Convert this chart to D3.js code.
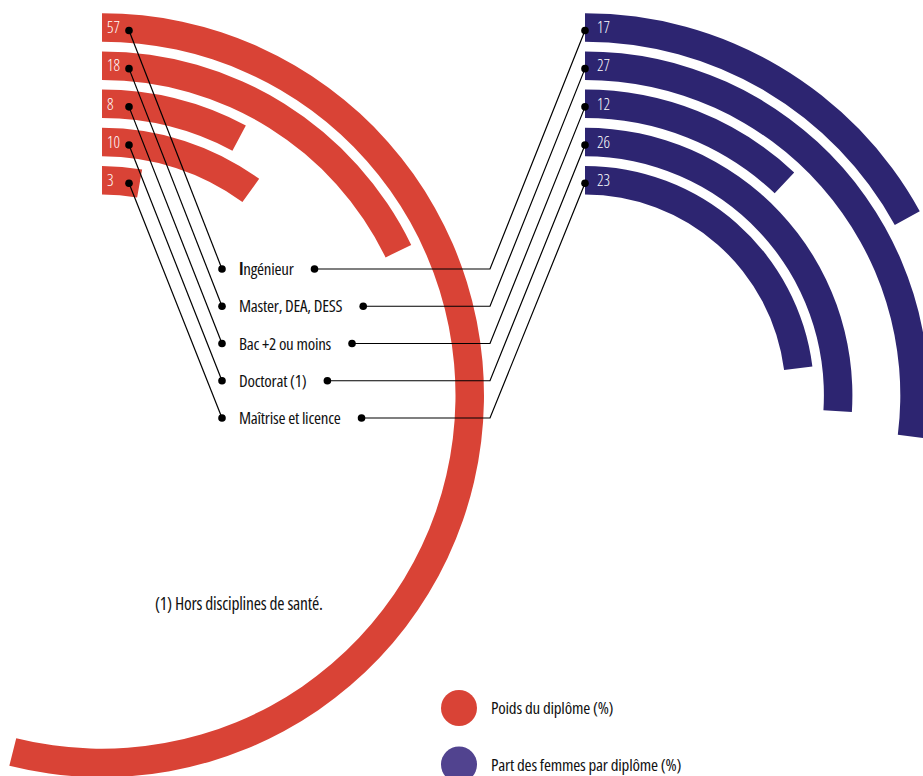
<!DOCTYPE html>
<html><head><meta charset="utf-8">
<script src="https://cdn.jsdelivr.net/npm/d3@7"></script>
<style>
html,body{margin:0;padding:0;background:#fff}
svg{display:block}
text{font-family:'Open Sans',sans-serif;font-stretch:condensed;}
</style>
</head><body>
<svg id="chart" width="923" height="776"></svg>
<script>
// ---- data ----
const categories = ["Ingénieur", "Master, DEA, DESS", "Bac +2 ou moins", "Doctorat (1)", "Maîtrise et licence"];
const poidsLabels = [57, 18, 8, 10, 3];            // printed values (%)
const poidsArc = [53.9, 17.8, 7.8, 10.0, 2.8];      // arc extent as drawn in the picture (%)
const femmes = [17, 27, 12, 26, 23];               // part des femmes (%)
const legendLabels = ["Poids du diplôme (%)", "Part des femmes par diplôme (%)"];
const footnote = "(1) Hors disciplines de santé.";

// ---- styles ----
const RED = "#d94336", NAVY = "#2d2571", PURPLE = "#51438f";
const svg = d3.select("#chart");

const leftC = {x: 102, y: 395.2};
const rightC = {x: 585, y: 395.2};

const angle = d3.scaleLinear().domain([0, 100]).range([0, 2 * Math.PI]);
const radius = d3.scaleBand().domain(d3.range(categories.length)).range([382, 200.7]).paddingInner(0.254);
const bw = radius.bandwidth();

function arcPath(i, v) {
  return d3.arc().innerRadius(radius(i)).outerRadius(radius(i) + bw).startAngle(0).endAngle(angle(v))();
}
const bandCenterY = i => leftC.y - (radius(i) + bw / 2);

// ---- arcs ----
const gL = svg.append("g").attr("transform", `translate(${leftC.x},${leftC.y})`);
gL.selectAll("path").data(poidsArc).join("path")
  .attr("d", (v, i) => arcPath(i, v)).attr("fill", RED);

const gR = svg.append("g").attr("transform", `translate(${rightC.x},${rightC.y})`);
gR.selectAll("path").data(femmes).join("path")
  .attr("d", (v, i) => arcPath(i, v)).attr("fill", NAVY);

// value labels
svg.append("g").selectAll("text").data(poidsLabels).join("text")
  .attr("x", leftC.x + 5).attr("y", (d, i) => bandCenterY(i)).attr("dy", "0.36em")
  .attr("fill", "#fff").style("font-size", "16px").style("font-weight", 300).text(d => d);
svg.append("g").selectAll("text").data(femmes).join("text")
  .attr("x", rightC.x + 12).attr("y", (d, i) => bandCenterY(i)).attr("dy", "0.36em")
  .attr("fill", "#fff").style("font-size", "16px").style("font-weight", 300).text(d => d);

// ---- category labels ----
const labelY = d3.scalePoint().domain(categories).range([269, 418]);
const leftDotX = 222, textX = 239, elbowX = 490;
const lblG = svg.append("g");
const texts = lblG.selectAll("text").data(categories).join("text")
  .attr("x", textX).attr("y", d => labelY(d)).attr("dy", "0.36em")
  .attr("fill", "#111").style("font-size", "17px").style("letter-spacing", "-0.25px");
texts.each(function(d) {
  const t = d3.select(this);
  if (d === "Ingénieur") {
    t.append("tspan").style("font-weight", "700").text(d[0]);
    t.append("tspan").text(d.slice(1));
  } else t.text(d);
});
const ends = texts.nodes().map(n => textX + n.getComputedTextLength());

// connector lines
const lines = svg.append("g").attr("fill", "none").attr("stroke", "#000").attr("stroke-width", 1.2);
categories.forEach((c, i) => {
  const dy = bandCenterY(i) + 3;
  lines.append("line").attr("x1", leftC.x + 27).attr("y1", dy).attr("x2", leftDotX).attr("y2", labelY(c));
  lines.append("path").attr("d", d3.line()([[ends[i] + 21, labelY(c)], [elbowX, labelY(c)], [rightC.x, dy]]));
});
// dots
const dots = svg.append("g").attr("fill", "#000");
categories.forEach((c, i) => {
  const dy = bandCenterY(i) + 3;
  dots.append("circle").attr("cx", leftC.x + 27).attr("cy", dy).attr("r", 3.8);
  dots.append("circle").attr("cx", rightC.x).attr("cy", dy).attr("r", 3.8);
  dots.append("circle").attr("cx", leftDotX).attr("cy", labelY(c)).attr("r", 3.8);
  dots.append("circle").attr("cx", ends[i] + 21).attr("cy", labelY(c)).attr("r", 3.8);
});

// ---- footnote ----
svg.append("text").attr("x", 155).attr("y", 610).attr("fill", "#111")
  .style("font-size", "17.5px").style("letter-spacing", "-0.2px").text(footnote);

// ---- legend ----
const legColors = [RED, PURPLE];
const lg = svg.append("g");
legendLabels.forEach((l, i) => {
  const y = 708 + i * 56.5;
  lg.append("circle").attr("cx", 459).attr("cy", y).attr("r", 18).attr("fill", legColors[i]);
  lg.append("text").attr("x", 491).attr("y", y).attr("dy", "0.36em").attr("fill", "#111")
    .style("font-size", "17px").style("letter-spacing", "-0.2px").text(l);
});
</script></body></html>
